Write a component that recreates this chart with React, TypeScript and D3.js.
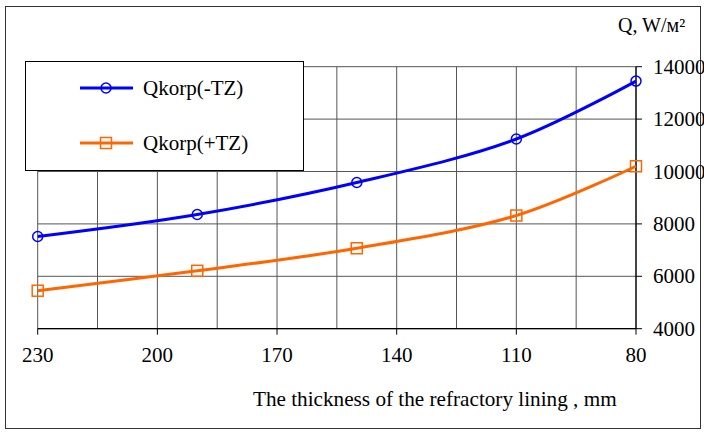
import React from "react";
import * as d3 from "d3";

const thickness = [230, 190, 150, 110, 80];
const qMinusTZ = [7520, 8360, 9580, 11240, 13450];
const qPlusTZ = [5450, 6210, 7070, 8320, 10200];
const xTicks = [230, 200, 170, 140, 110, 80];
const xGrid = d3.range(80, 231, 15);
const yTicks = [4000, 6000, 8000, 10000, 12000, 14000];
const seriesNames = ["Qkorp(-TZ)", "Qkorp(+TZ)"];
const colors = ["#0000ff", "#ff6600"];

const W = 704;
const H = 432;
const FONT = "'Liberation Serif', 'Times New Roman', serif";
const TS: React.CSSProperties = { fontFamily: FONT };

export default function App() {
  const x = d3.scaleLinear().domain([230, 80]).range([37.7, 636]);
  const y = d3.scaleLinear().domain([4000, 14000]).range([328.7, 66.7]);
  const line = d3
    .line<number>()
    .x((_, i) => x(thickness[i]))
    .y((d) => y(d))
    .curve(d3.curveCatmullRom.alpha(0.5));
  const series = [qMinusTZ, qPlusTZ];
  const [x0, x1] = x.range();
  const [yb, yt] = y.range();

  return (
    <svg
      width={W}
      height={H}
      style={{ position: "absolute", left: 0, top: 0, background: "#fff", fontFamily: FONT }}
    >
      <rect x={0} y={0} width={W} height={H} fill="#fff" />
      <rect x={5.5} y={6.5} width={695} height={422} fill="none" stroke="#333" strokeWidth={1} />
      {/* grid */}
      {xGrid.map((v) => (
        <line key={"gx" + v} x1={x(v)} x2={x(v)} y1={yt} y2={yb} stroke="#555" strokeWidth={1} />
      ))}
      {yTicks.map((v) => (
        <line key={"gy" + v} x1={x0} x2={x1} y1={y(v)} y2={y(v)} stroke="#555" strokeWidth={1} />
      ))}
      {/* axes */}
      <line x1={x0} x2={x1} y1={yb} y2={yb} stroke="#000" strokeWidth={1.2} />
      <line x1={x1} x2={x1} y1={yt} y2={yb} stroke="#000" strokeWidth={1.2} />
      {xTicks.map((v) => (
        <g key={"xt" + v}>
          <line x1={x(v)} x2={x(v)} y1={yb} y2={yb + 6} stroke="#000" />
          <text x={x(v)} y={362} textAnchor="middle" fontSize={21} fill="#000" style={TS}>
            {v}
          </text>
        </g>
      ))}
      {yTicks.map((v) => (
        <g key={"yt" + v}>
          <line x1={x1} x2={x1 + 6} y1={y(v)} y2={y(v)} stroke="#000" />
          <text x={653} y={y(v) + 7} fontSize={21} fill="#000" style={TS}>
            {v}
          </text>
        </g>
      ))}
      {/* series */}
      {series.map((s, si) => (
        <g key={"s" + si}>
          <path d={line(s) || ""} fill="none" stroke={colors[si]} strokeWidth={3} />
          {s.map((v, i) =>
            si === 0 ? (
              <circle key={i} cx={x(thickness[i])} cy={y(v)} r={5} fill="none" stroke={colors[si]} strokeWidth={1.5} />
            ) : (
              <rect key={i} x={x(thickness[i]) - 5.5} y={y(v) - 5.5} width={11} height={11} fill="none" stroke={colors[si]} strokeWidth={1.5} />
            )
          )}
        </g>
      ))}
      {/* legend */}
      <rect x={25.5} y={61.5} width={278} height={109} fill="#fff" stroke="#000" strokeWidth={1} />
      {seriesNames.map((n, i) => {
        const ly = 88 + i * 55;
        return (
          <g key={"lg" + i}>
            <line x1={80} x2={133} y1={ly} y2={ly} stroke={colors[i]} strokeWidth={3} />
            {i === 0 ? (
              <circle cx={106} cy={ly} r={5} fill="none" stroke={colors[i]} strokeWidth={1.5} />
            ) : (
              <rect x={100.5} y={ly - 5.5} width={11} height={11} fill="none" stroke={colors[i]} strokeWidth={1.5} />
            )}
            <text x={143} y={ly + 7} fontSize={21} fill="#000" style={TS}>
              {n}
            </text>
          </g>
        );
      })}
      {/* titles */}
      <text x={618} y={32} fontSize={20} fill="#000" style={TS}>
        Q, W/м²
      </text>
      <text x={253} y={406} fontSize={21.2} fill="#000" style={TS}>
        The thickness of the refractory lining , mm
      </text>
    </svg>
  );
}
